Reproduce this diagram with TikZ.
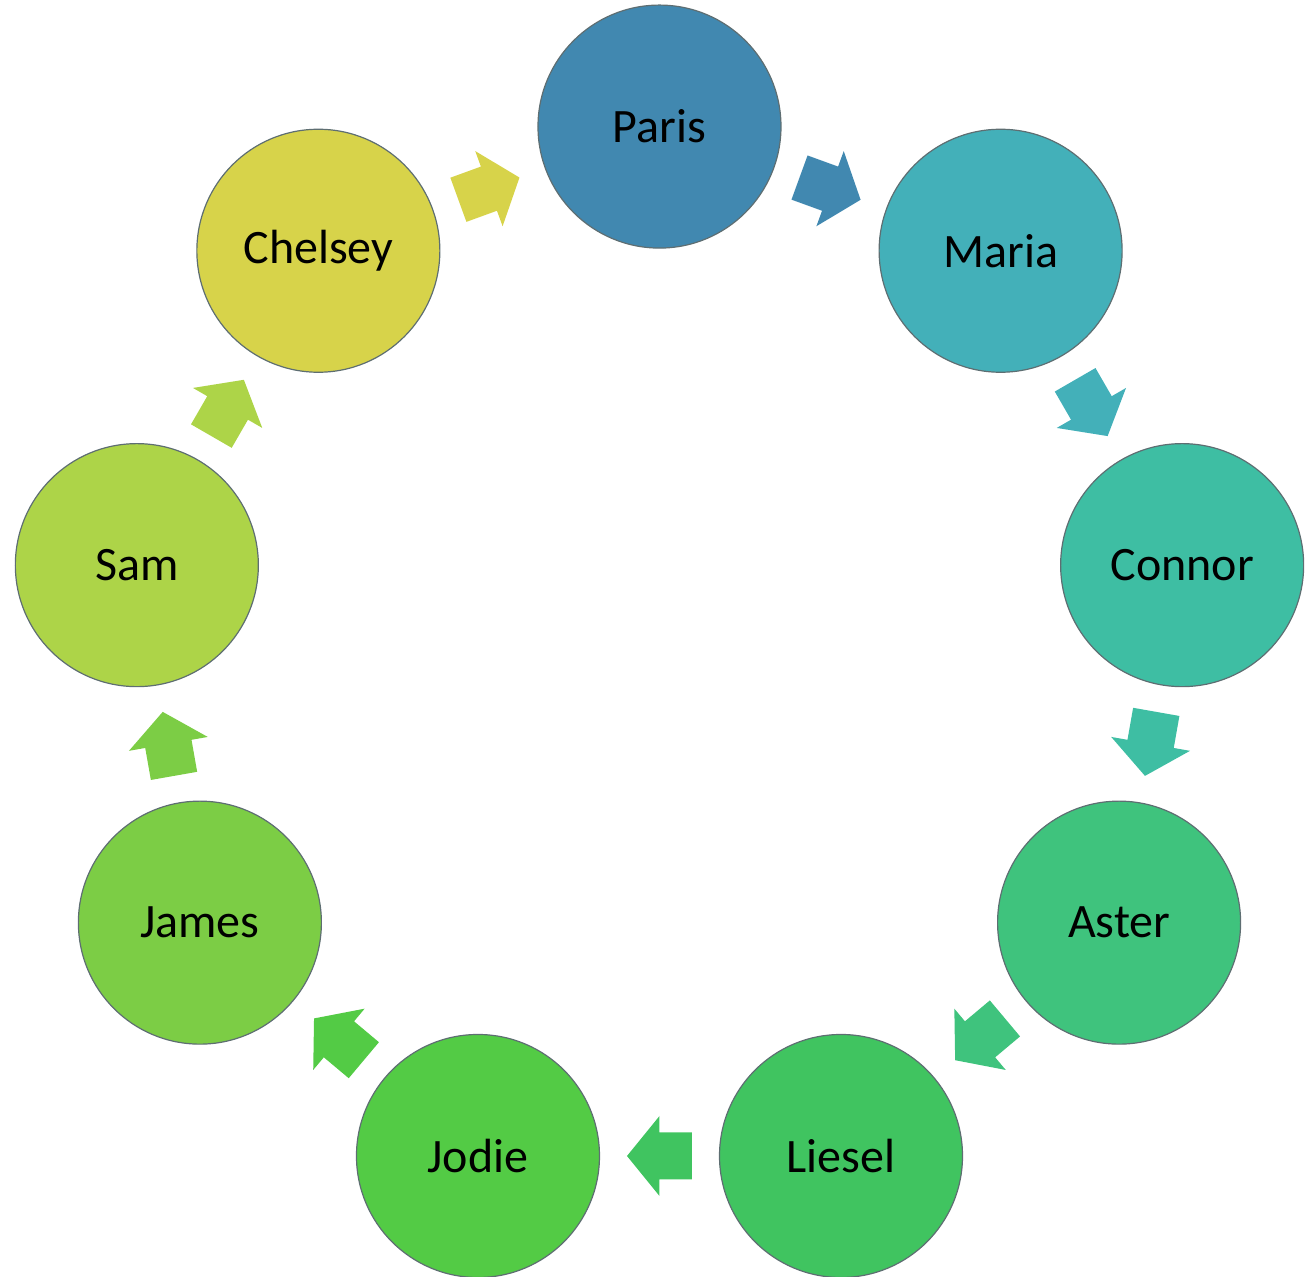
\documentclass[tikz,border=0pt]{standalone}
\usepackage{fontspec}
\setmainfont{Carlito}
\usetikzlibrary{calc}
\definecolor{cParis}{HTML}{4188B0}
\definecolor{cMaria}{HTML}{43B0B9}
\definecolor{cConnor}{HTML}{3EBEA3}
\definecolor{cAster}{HTML}{3FC37D}
\definecolor{cLiesel}{HTML}{40C460}
\definecolor{cJodie}{HTML}{53CB45}
\definecolor{cJames}{HTML}{7CCD45}
\definecolor{cSam}{HTML}{ADD448}
\definecolor{cChelsey}{HTML}{D7D34A}
\definecolor{rimgray}{HTML}{5E6E72}
\tikzset{
  person/.style={circle, draw=rimgray, line width=0.6pt, fill=#1,
    minimum size=121.5pt, inner sep=0pt, outer sep=0pt,
    font=\fontsize{24}{28}\selectfont, text=black},
}
\begin{document}
\begin{tikzpicture}[x=0.5pt,y=0.5pt]
\useasboundingbox (-659.5,-619.7) rectangle (647.5,657.3);
% nodes
\node[person=cParis]   (n0) at (90:530.7)   {Paris};
\node[person=cMaria]   (n1) at (50:530.7)   {Maria};
\node[person=cConnor]  (n2) at (10:530.7)   {Connor};
\node[person=cAster]   (n3) at (-30:530.7)  {Aster};
\node[person=cLiesel]  (n4) at (-70:530.7)  {Liesel};
\node[person=cJodie]   (n5) at (-110:530.7) {Jodie};
\node[person=cJames]   (n6) at (-150:530.7) {James};
\node[person=cSam]     (n7) at (170:530.7)  {Sam};
\node[person=cChelsey] (n8) at (130:530.7)  {Chelsey};
% block arrows between consecutive nodes
\foreach \i/\j/\c [evaluate=\i as \rot using -20-40*\i] in
  {0/1/cParis,1/2/cMaria,2/3/cConnor,3/4/cAster,4/5/cLiesel,
   5/6/cJodie,6/7/cJames,7/8/cSam,8/0/cChelsey}{
  \begin{scope}[shift={($(n\i)!0.5!(n\j)$)}, rotate=\rot]
    \fill[\c] (-32.5,-23.5) -- (0,-23.5) -- (0,-40) -- (32.5,0)
      -- (0,40) -- (0,23.5) -- (-32.5,23.5) -- cycle;
  \end{scope}
}
\end{tikzpicture}
\end{document}
